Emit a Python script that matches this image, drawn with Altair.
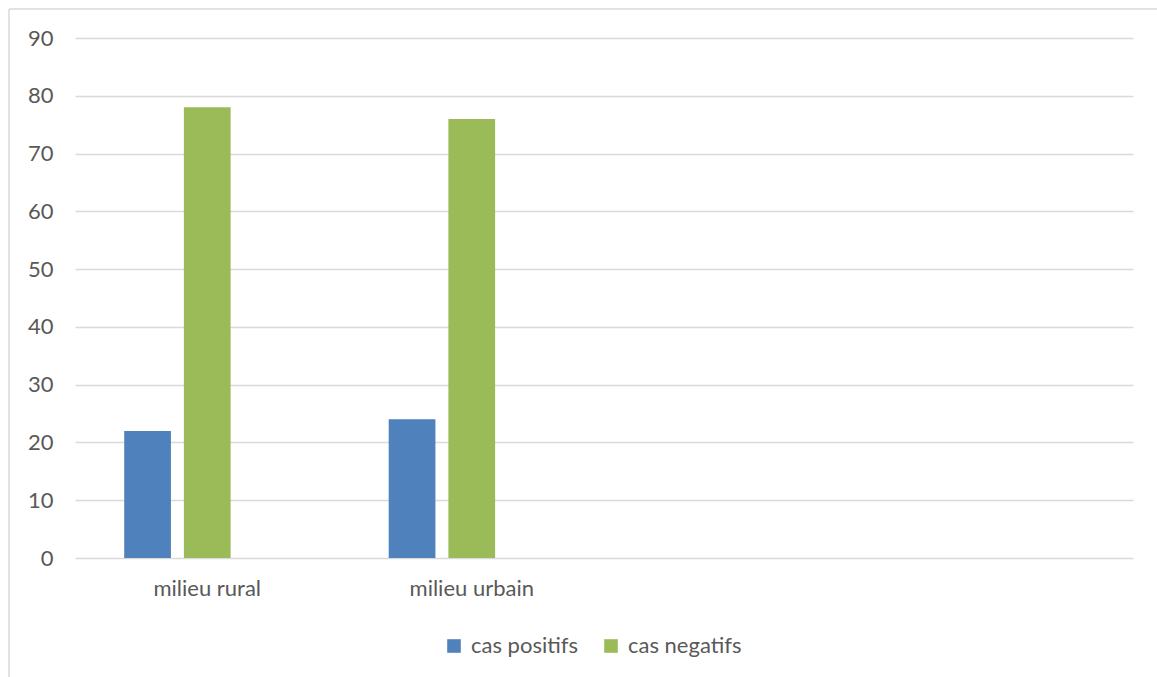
import altair as alt
import pandas as pd

# Values for the two settings
categories = ["milieu rural", "milieu urbain"]
series = ["cas positifs", "cas negatifs"]
positifs = [22, 24]
negatifs = [78, 76]

# Category axis keeps two empty slots on the right, and each group keeps room for a third (empty) series
x_domain = categories + ["cat3", "cat4"]
offset_domain = series + ["serie3"]
colors = ["#4f81bd", "#9bbb59"]

rows = []
for c, p, n in zip(categories, positifs, negatifs):
    rows.append({"milieu": c, "serie": series[0], "valeur": p})
    rows.append({"milieu": c, "serie": series[1], "valeur": n})
df = pd.DataFrame(rows)

FONT = "Lato"
TEXT = "#595959"
GRID = "#d9d9d9"

bars = alt.Chart(df).mark_bar().encode(
    x=alt.X(
        "milieu:N",
        sort=x_domain,
        scale=alt.Scale(domain=x_domain, paddingInner=0.372, paddingOuter=0.186),
        axis=alt.Axis(
            title=None, domain=False, ticks=False, labelAngle=0, labelPadding=20,
            labelExpr="datum.label == 'cat3' || datum.label == 'cat4' ? '' : datum.label",
        ),
    ),
    xOffset=alt.XOffset(
        "serie:N",
        scale=alt.Scale(domain=offset_domain, paddingInner=0.217, paddingOuter=0),
    ),
    y=alt.Y(
        "valeur:Q",
        scale=alt.Scale(domain=[0, 90], nice=False),
        axis=alt.Axis(
            title=None, domain=False, ticks=False, grid=True, gridColor=GRID,
            gridWidth=1.5, values=list(range(0, 91, 10)), labelPadding=22,
        ),
    ),
    color=alt.Color(
        "serie:N",
        scale=alt.Scale(domain=series, range=colors),
        legend=alt.Legend(
            title=None, orient="none", legendX=368, legendY=597, direction="horizontal",
            symbolType="square", symbolSize=185, symbolStrokeWidth=0,
            labelFont=FONT, labelFontSize=22, labelColor=TEXT, labelOffset=6,
            columnPadding=22, padding=0,
        ),
    ),
)

# Outer frame lines of the chart area (top and left edges)
frame_df = pd.DataFrame({"k": [0]})
frame_top = alt.Chart(frame_df).mark_rule(color=GRID, strokeWidth=1.5).encode(
    x=alt.value(-66), x2=alt.value(1100), y=alt.value(-29)
)
frame_left = alt.Chart(frame_df).mark_rule(color=GRID, strokeWidth=1.5).encode(
    x=alt.value(-66), y=alt.value(-29), y2=alt.value(660)
)

chart = alt.layer(frame_top, frame_left, bars).properties(
    width=1058,
    height=520,
    autosize=alt.AutoSizeParams(type="none"),
    padding={"left": 75, "top": 38, "right": 24, "bottom": 119},
    background="white",
).configure_view(stroke=None).configure_axis(
    labelFont=FONT, labelFontSize=22, labelColor=TEXT
)

chart.save("out.html", embed_options={"renderer": "svg", "actions": False})
